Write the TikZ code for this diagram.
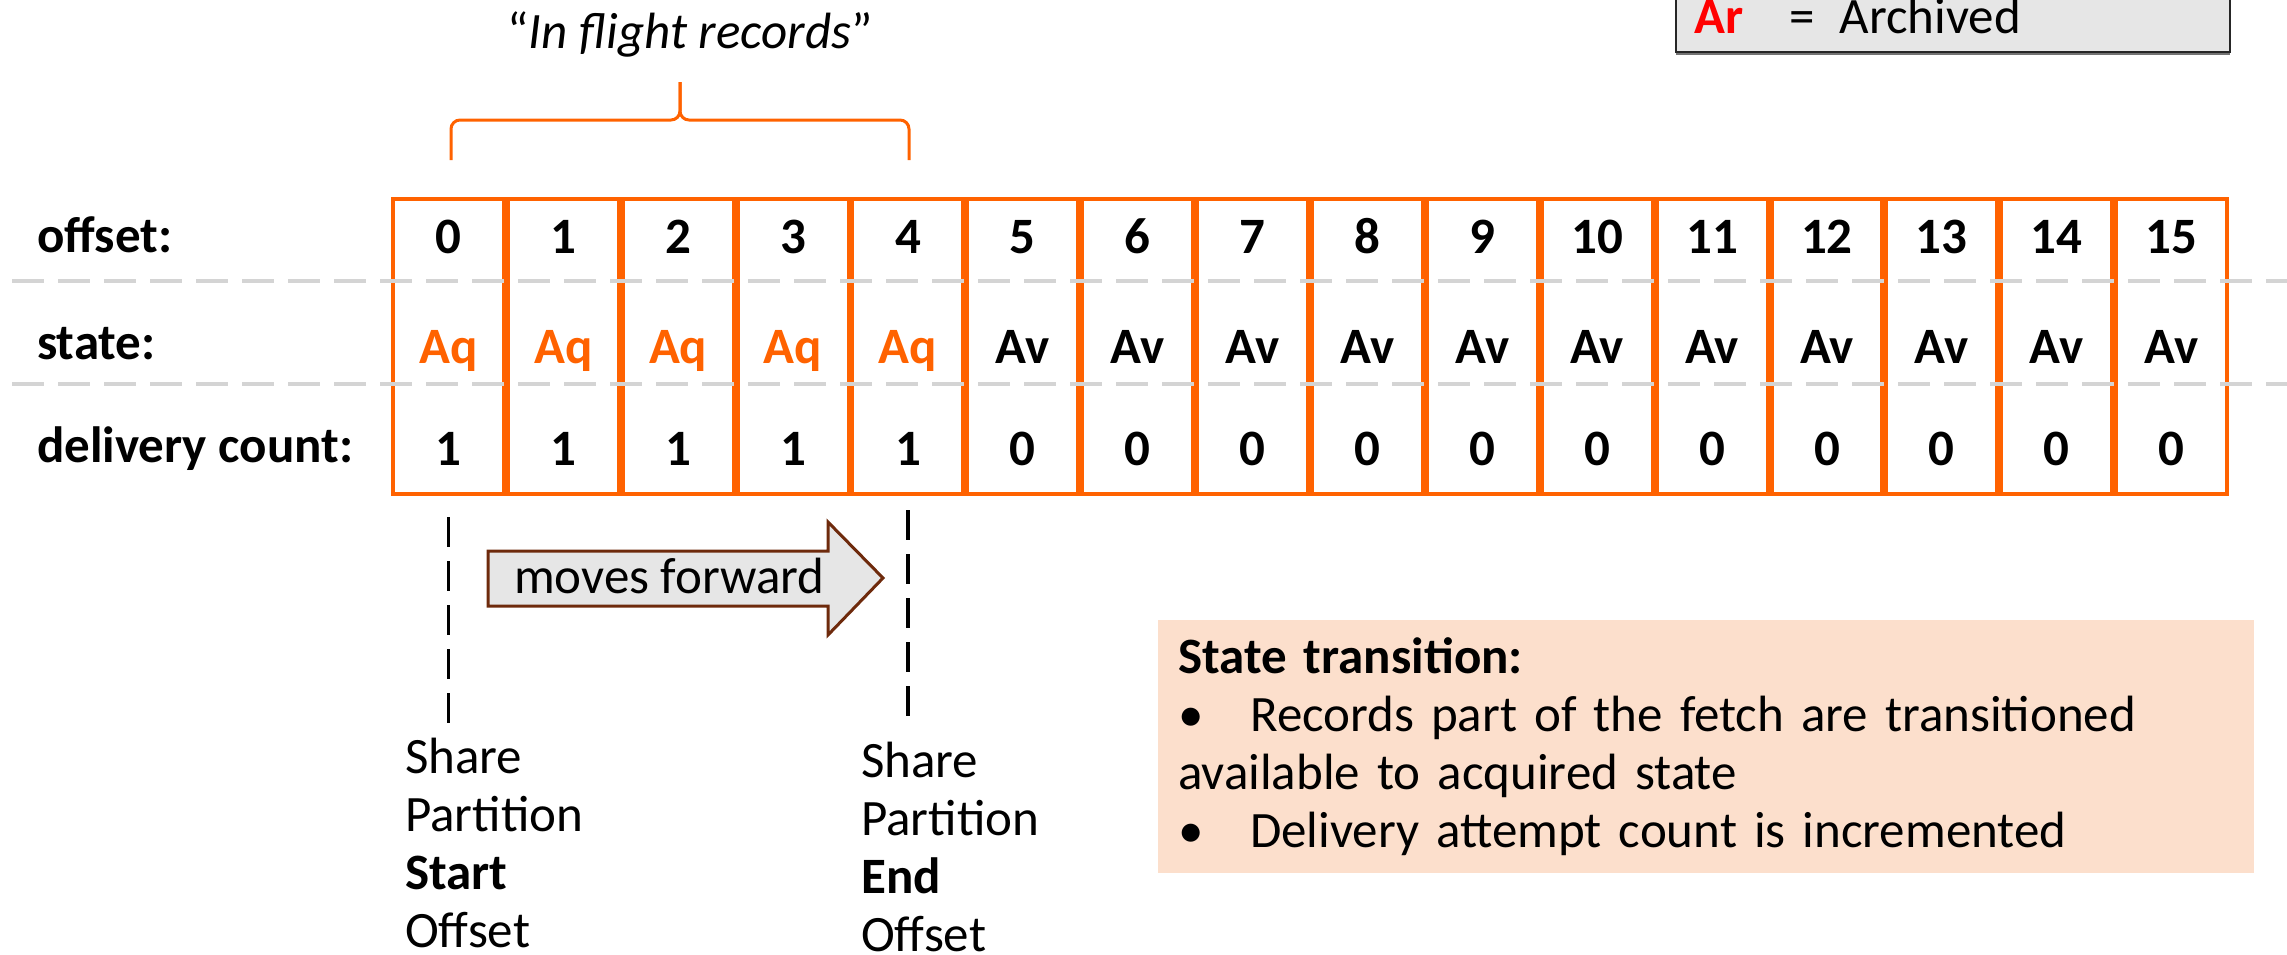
\documentclass[tikz,border=0pt]{standalone}
\usepackage{fontspec}
\setmainfont{Carlito}
\usetikzlibrary{shadows}
\definecolor{ingorange}{HTML}{FF6200}
\definecolor{sepgray}{HTML}{D4D4D4}
\definecolor{notepeach}{HTML}{FCDFCC}
\definecolor{keygray}{HTML}{E6E6E6}
\definecolor{fwdbrown}{HTML}{6E2A0C}
\definecolor{arred}{HTML}{FF0000}
\begin{document}
\begin{tikzpicture}[x=1pt,y=-1pt,
    cell/.style={draw=ingorange,line width=4pt,minimum width=110.9pt,minimum height=295pt,inner sep=0pt},
    lbl/.style={font=\fontsize{51}{58}\selectfont\bfseries,anchor=base west,inner sep=0pt},
    val/.style={font=\fontsize{51}{58}\selectfont\bfseries,anchor=base,inner sep=0pt},
    txt/.style={font=\fontsize{51}{58}\selectfont,inner sep=0pt},
    sep/.style={sepgray,line width=4pt,dash pattern=on 32pt off 14pt},
    marker/.style={line width=3.5pt,dash pattern=on 30pt off 14pt},
    bracket/.style={ingorange,line width=3pt,rounded corners=9pt}]
\useasboundingbox (0,0) rectangle (2287,954);

% legend
\node[draw=black!85,line width=2pt,fill=keygray,anchor=south west,minimum width=554pt,minimum height=70pt,
  drop shadow={shadow xshift=0pt,shadow yshift=-2.5pt,fill=black!55,opacity=1}] (key) at (1675,53) {};
\node[txt,anchor=base west] (arkey) at (1694,33) {\textcolor{arred}{\bfseries Ar}\hspace{46pt}=\hspace{25pt}Archived};

% in flight brace
\node[txt,anchor=base] (inflight) at (690,48) {“\textit{In flight records}”};
\draw[bracket] (451,160) |- (680,120) -- (680,82);
\draw[bracket] (909,160) |- (680,120) -- (680,82);

% log
\foreach \i in {0,...,15}
    \node[cell] (c\i) at ({448.44+114.875*\i},346.5) {};
\foreach \i in {0,...,15}
    \node[val] (o\i) at ({448.44+114.875*\i},253) {\i};
\foreach \i in {0,...,4}{
    \node[val,text=ingorange] (s\i) at ({448.44+114.875*\i},363) {Aq};
    \node[val] (d\i) at ({448.44+114.875*\i},465) {1};
}
\foreach \i in {5,...,15}{
    \node[val] (s\i) at ({448.44+114.875*\i},363) {Av};
    \node[val] (d\i) at ({448.44+114.875*\i},465) {0};
}
\draw[sep] (12,281) -- (2287,281);
\draw[sep] (12,384) -- (2287,384);

\node[lbl] (offsetlbl) at (37,252) {offset:};
\node[lbl] (statelbl) at (37,359) {state:};
\node[lbl] (countlbl) at (37,462) {delivery count:};

% share partition bounds
\draw[marker] ([yshift=-21pt]c0.south) -- ([yshift=-227pt]c0.south);
\draw[marker] ([yshift=-14pt]c4.south) -- ([yshift=-221pt]c4.south);
\draw[fwdbrown,line width=3pt,fill=keygray] (488,551) -- (828,551) -- (828,522) -- (883,578)
    -- (828,635) -- (828,606) -- (488,606) -- cycle;
\node[txt,anchor=base west] (fwd) at (514,593) {moves forward};
\node[txt,align=left,anchor=base west] (spstart) at (405,947) {Share\\Partition\\\textbf{Start}\\Offset};
\node[txt,align=left,anchor=base west] (spend) at (861,951) {Share\\Partition\\\textbf{End}\\Offset};

% note
\node[txt,fill=notepeach,anchor=north west,minimum width=1096pt,minimum height=253pt,
  text width=1056pt,inner xsep=20pt,align=left] (note) at (1158,620)
  {\textbf{State transition:}\\
   \makebox[72pt][l]{\textbullet}Records part of the fetch are transitioned\\
   available to acquired state\\
   \makebox[72pt][l]{\textbullet}Delivery attempt count is incremented};
\end{tikzpicture}
\end{document}
